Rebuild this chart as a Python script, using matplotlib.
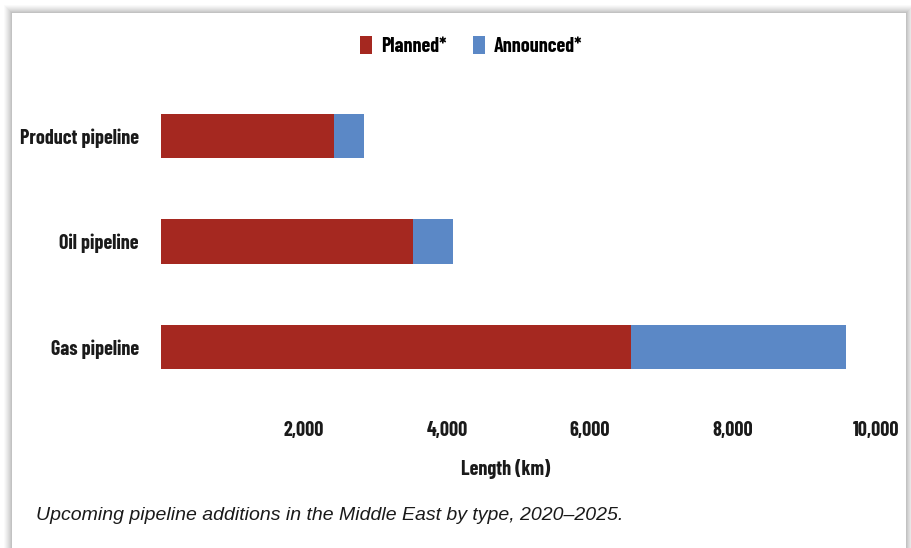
import matplotlib
matplotlib.use("Agg")
import matplotlib.pyplot as plt
import matplotlib.patches as patches

# Upcoming pipeline additions, Middle East 2020-2025 (km)
categorias = ["Gas pipeline", "Oil pipeline", "Product pipeline"]
planned = [6580, 3530, 2420]
announced = [3000, 550, 420]
ticks_x = [2000, 4000, 6000, 8000, 10000]
tick_labels_x = ["2,000", "4,000", "6,000", "8,000", "10,000"]

ROJO = "#A52820"
AZUL = "#5B88C6"
COND = ["Barlow Condensed", "DejaVu Sans"]
PESO = 700
TAM = 14.5

W, H = 912, 548
fig = plt.figure(figsize=(W / 100, H / 100), dpi=100)
fig.patch.set_facecolor("white")

# tarjeta blanca con sombra suave
cx0, cy0, cx1 = 12, 13, 906
for i, a in enumerate([0.03, 0.04, 0.05, 0.06, 0.07, 0.08, 0.10, 0.12]):
    d = 8 - i
    sombra = patches.Rectangle(((cx0 - d) / W, 0), (cx1 - cx0 + 2 * d) / W,
                               (H - cy0 + d) / H, transform=fig.transFigure,
                               facecolor="#7a7a7a", edgecolor="none", alpha=a,
                               zorder=0)
    fig.add_artist(sombra)
card = patches.Rectangle((cx0 / W, 0), (cx1 - cx0) / W, (H - cy0) / H,
                         transform=fig.transFigure, facecolor="white",
                         edgecolor="none", zorder=0.5)
fig.add_artist(card)

# ejes: 0 km en x=161 px, 10,000 km en x=876 px
x0_px, x1_px = 161, 876
y_top, y_bot = 83, 400
ax = fig.add_axes([x0_px / W, 1 - y_bot / H, (x1_px - x0_px) / W, (y_bot - y_top) / H])
ax.set_facecolor("none")
ax.set_zorder(2)

pos = list(range(len(categorias)))
ax.barh(pos, planned, height=0.42, color=ROJO, label="Planned*")
ax.barh(pos, announced, left=planned, height=0.42, color=AZUL, label="Announced*")

ax.set_xlim(0, 10000)
ax.set_ylim(-0.5, 2.5)
ax.set_xticks(ticks_x)
ax.set_xticklabels(tick_labels_x, family=COND, fontweight=PESO, fontsize=TAM)
ax.set_yticks(pos)
ax.set_yticklabels(categorias, family=COND, fontweight=PESO, fontsize=TAM)
ax.tick_params(axis="both", length=0, colors="#1a1a1a")
ax.tick_params(axis="x", pad=15)
ax.tick_params(axis="y", pad=16)
for s in ax.spines.values():
    s.set_visible(False)

fig.text(506 / W, 1 - 469 / H, "Length (km)", ha="center", va="center",
         family=COND, fontweight=PESO, fontsize=TAM, color="#1a1a1a")

fig.legend(loc="center", bbox_to_anchor=(471 / W, 1 - 46 / H), ncol=2,
           frameon=False, handlelength=0.6, handleheight=1.0, handletextpad=0.45,
           columnspacing=1.3, prop={"family": COND, "weight": PESO, "size": TAM})

fig.text(36 / W, 1 - 515 / H,
         "Upcoming pipeline additions in the Middle East by type, 2020\u20132025.",
         ha="left", va="center", family="Liberation Sans", style="italic",
         fontsize=14, color="#1a1a1a")

fig.savefig("out.png", dpi=100)
